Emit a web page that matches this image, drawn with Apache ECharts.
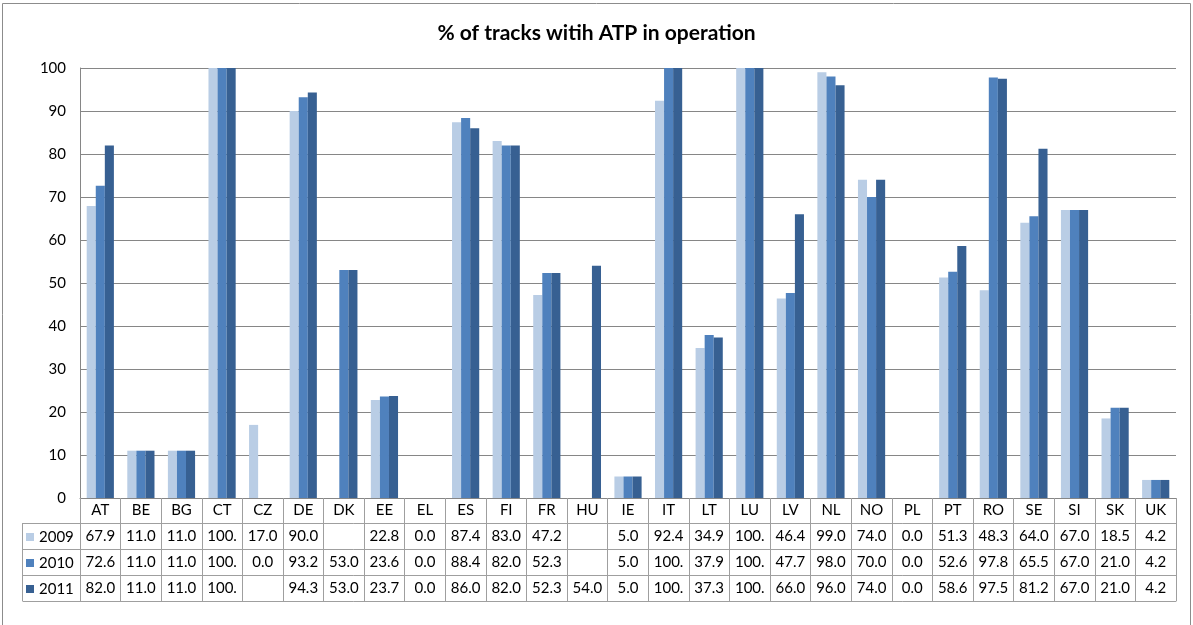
<!DOCTYPE html>
<html>
<head>
<meta charset="utf-8">
<script src="https://cdn.jsdelivr.net/npm/echarts@6/dist/echarts.min.js"></script>
<style>
html,body{margin:0;padding:0;background:#fff;}
#c{width:1193px;height:625px;}
</style>
</head>
<body>
<div id="c"></div>
<script>
const categories = ['AT','BE','BG','CT','CZ','DE','DK','EE','EL','ES','FI','FR','HU','IE','IT','LT','LU','LV','NL','NO','PL','PT','RO','SE','SI','SK','UK'];
const seriesNames = ['2009','2010','2011'];
const values2009 = [67.9,11.0,11.0,100,17.0,90.0,null,22.8,0.0,87.4,83.0,47.2,null,5.0,92.4,34.9,100,46.4,99.0,74.0,0.0,51.3,48.3,64.0,67.0,18.5,4.2];
const values2010 = [72.6,11.0,11.0,100,0.0,93.2,53.0,23.6,0.0,88.4,82.0,52.3,null,5.0,100,37.9,100,47.7,98.0,70.0,0.0,52.6,97.8,65.5,67.0,21.0,4.2];
const values2011 = [82.0,11.0,11.0,100,null,94.3,53.0,23.7,0.0,86.0,82.0,52.3,54.0,5.0,100,37.3,100,66.0,96.0,74.0,0.0,58.6,97.5,81.2,67.0,21.0,4.2];
const yTicks = [0,10,20,30,40,50,60,70,80,90,100];

const allValues = [values2009, values2010, values2011];
const colors = ['#B9CDE5','#4F81BD','#376092'];
const FONT = 'Lato, "Open Sans", sans-serif';
const FS = 15;
const tableLine = '#9f9f9f';
const gridLine = '#868686';

// layout
const G = {left:80, right:17, top:68, bottom:127};
const ROW = [25, 51, 77, 103];
const H = 625;
const zeroY = H - G.bottom;

function cellText(v){ return v == null ? '' : v.toFixed(1).slice(0,4); }

const xAxes = [{
  type:'category', data:categories, gridIndex:0, position:'bottom',
  axisLine:{show:true, lineStyle:{color:gridLine, width:1}},
  axisTick:{show:true, interval:0, length:ROW[3], lineStyle:{color:tableLine}},
  axisLabel:{interval:0, margin:0, lineHeight:ROW[0], fontSize:FS, color:'#000', fontFamily:FONT},
  splitLine:{show:false}
}];
allValues.forEach((vals, k) => {
  xAxes.push({
    type:'category', data:categories, gridIndex:0, position:'bottom', offset:ROW[k],
    axisLine:{show:true, lineStyle:{color:tableLine}},
    axisTick:{show:false},
    axisLabel:{interval:0, margin:0, lineHeight:ROW[k+1]-ROW[k], fontSize:FS, color:'#000', fontFamily:FONT,
      formatter:(v, i) => cellText(vals[i])},
    splitLine:{show:false}
  });
});
xAxes.push({
  type:'category', data:categories, gridIndex:0, position:'bottom', offset:ROW[3],
  axisLine:{show:true, lineStyle:{color:tableLine}},
  axisTick:{show:false}, axisLabel:{show:false}, splitLine:{show:false}
});

const graphicEls = [
  {type:'rect', shape:{x:2.5, y:3.5, width:1188, height:640}, style:{fill:'none', stroke:'#8c8c8c', lineWidth:1}, silent:true},
  {type:'line', shape:{x1:22.5, y1:zeroY+ROW[0], x2:22.5, y2:zeroY+ROW[3]}, style:{stroke:tableLine, lineWidth:1}, silent:true}
];
ROW.forEach(r => {
  graphicEls.push({type:'line', shape:{x1:22.5, y1:zeroY+r+0.5, x2:G.left, y2:zeroY+r+0.5}, style:{stroke:tableLine, lineWidth:1}, silent:true});
});

const option = {
  animation:false,
  backgroundColor:'#fff',
  title:{text:'% of tracks witih ATP in operation', left:'center', top:18,
    textStyle:{fontFamily:FONT, fontSize:21, fontWeight:'bold', color:'#000'}},
  legend:{data:seriesNames, orient:'vertical', left:26, top:zeroY+ROW[0]+1, itemWidth:8, itemHeight:8, itemGap:0, padding:0,
    icon:'rect', textStyle:{fontFamily:FONT, fontSize:FS, color:'#000', lineHeight:26}},
  grid:{left:G.left, right:G.right, top:G.top, bottom:G.bottom, containLabel:false},
  xAxis:xAxes,
  yAxis:{type:'value', min:0, max:100, interval:10,
    axisLine:{show:true, lineStyle:{color:gridLine}},
    axisTick:{show:false},
    axisLabel:{margin:14, fontSize:FS, color:'#000', fontFamily:FONT, formatter:v => yTicks.includes(v) ? String(v) : ''},
    splitLine:{show:true, lineStyle:{color:gridLine, width:1}}},
  series: seriesNames.map((n, k) => ({
    name:n, type:'bar', xAxisIndex:0, data:allValues[k],
    barGap:'0%', barCategoryGap:'33%',
    itemStyle:{color:colors[k]}
  })),
  graphic:graphicEls
};

const chart = echarts.init(document.getElementById('c'), null, {renderer:'canvas'});
chart.setOption(option);
</script>
</body>
</html>
